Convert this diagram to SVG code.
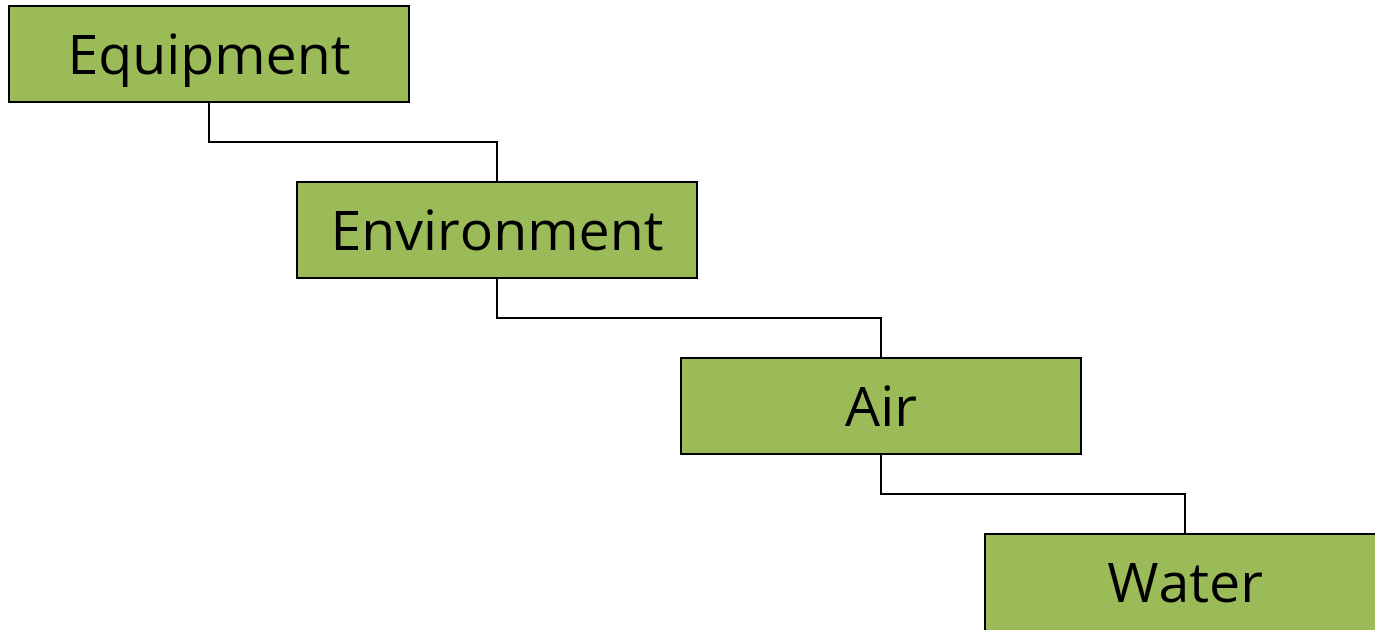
<svg xmlns="http://www.w3.org/2000/svg" width="1375" height="630" viewBox="0 0 1375 630">
<style>
.box{fill:#9BBB59;stroke:#000;stroke-width:2}
.lbl{font-family:"Open Sans","Liberation Sans",sans-serif;font-size:55.5px;fill:#000;text-anchor:middle}
.conn{fill:none;stroke:#000;stroke-width:2}
</style>
<rect width="1375" height="630" fill="#fff"/>
<g id="connectors">
<path class="conn" d="M209,102 V142 H497 V182"/>
<path class="conn" d="M497,278 V318 H881 V358"/>
<path class="conn" d="M881,454 V494 H1185 V534"/>
</g>
<g id="equipment"><rect class="box" x="9" y="6" width="400" height="96"/><text class="lbl" x="209" y="74">Equipment</text></g>
<g id="environment"><rect class="box" x="297" y="182" width="400" height="96"/><text class="lbl" x="497" y="250">Environment</text></g>
<g id="air"><rect class="box" x="681" y="358" width="400" height="96"/><text class="lbl" x="881" y="426">Air</text></g>
<g id="water"><rect class="box" x="985" y="534" width="400" height="110"/><text class="lbl" x="1185" y="602">Water</text></g>
</svg>
